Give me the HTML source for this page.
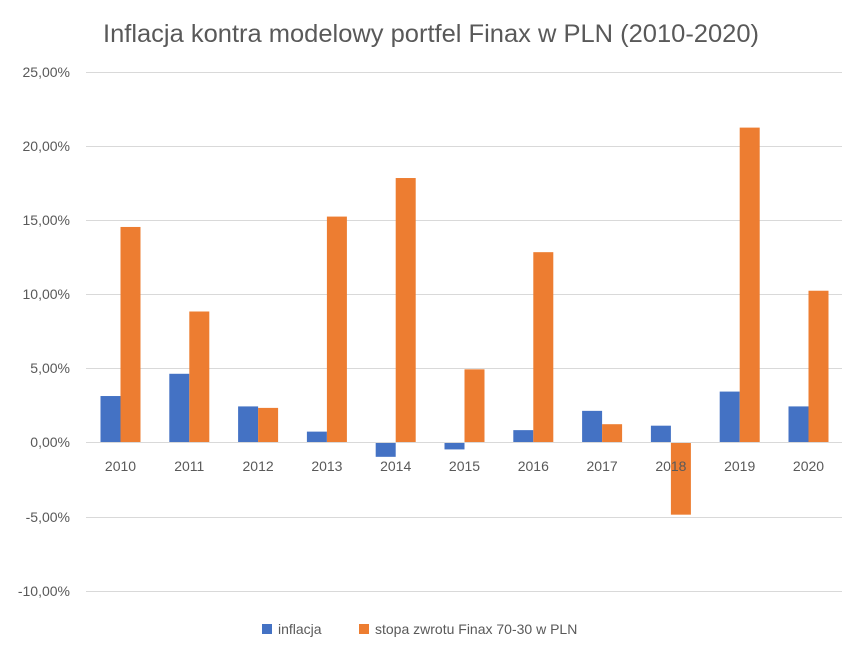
<!DOCTYPE html>
<html><head><meta charset="utf-8"><style>
body{margin:0;background:#fff;}
svg{display:block;font-family:"Liberation Sans",sans-serif;}
</style></head><body>
<svg width="862" height="656" xmlns="http://www.w3.org/2000/svg">
<rect width="862" height="656" fill="#fff"/>
<text x="431" y="42" text-anchor="middle" font-size="25" textLength="656" lengthAdjust="spacingAndGlyphs" fill="#595959">Inflacja kontra modelowy portfel Finax w PLN (2010-2020)</text>
<g stroke="#d9d9d9" stroke-width="1">
<line x1="86" x2="842" y1="72.5" y2="72.5"/>
<line x1="86" x2="842" y1="146.5" y2="146.5"/>
<line x1="86" x2="842" y1="220.5" y2="220.5"/>
<line x1="86" x2="842" y1="294.5" y2="294.5"/>
<line x1="86" x2="842" y1="368.5" y2="368.5"/>
<line x1="86" x2="842" y1="517.5" y2="517.5"/>
<line x1="86" x2="842" y1="591.5" y2="591.5"/>
</g>
<g font-size="14" fill="#595959" text-anchor="end">
<text x="70" y="77">25,00%</text>
<text x="70" y="151">20,00%</text>
<text x="70" y="225">15,00%</text>
<text x="70" y="299">10,00%</text>
<text x="70" y="373">5,00%</text>
<text x="70" y="447">0,00%</text>
<text x="70" y="522">-5,00%</text>
<text x="70" y="596">-10,00%</text>
</g>
<g id="bars"></g>
<line x1="86" x2="842" y1="442.5" y2="442.5" stroke="#d9d9d9"/>
<g font-size="14" fill="#595959" text-anchor="middle" id="labels"></g>
<rect x="262" y="624" width="10" height="10" fill="#4472C4"/>
<text x="278" y="634" font-size="14" fill="#595959">inflacja</text>
<rect x="359" y="624" width="10" height="10" fill="#ED7D31"/>
<text x="375" y="634" font-size="14" fill="#595959">stopa zwrotu Finax 70-30 w PLN</text>
<script>
var inf=[3.1,4.6,2.4,0.7,-1.0,-0.5,0.8,2.1,1.1,3.4,2.4];
var ret=[14.5,8.8,2.3,15.2,17.8,4.9,12.8,1.2,-4.9,21.2,10.2];
var g=document.getElementById('bars'),l=document.getElementById('labels');
var ns="http://www.w3.org/2000/svg";
function bar(x,v,c){var r=document.createElementNS(ns,'rect');var h=v*14.83;
r.setAttribute('x',x);r.setAttribute('width',20);
r.setAttribute('y',v>=0?442-h:442);r.setAttribute('height',Math.abs(h));r.setAttribute('fill',c);g.appendChild(r);}
for(var i=0;i<11;i++){var cx=120.5+i*68.8;
bar(cx-20,inf[i],'#4472C4');bar(cx,ret[i],'#ED7D31');
var t=document.createElementNS(ns,'text');t.setAttribute('x',cx);t.setAttribute('y',471);t.textContent=2010+i;l.appendChild(t);}
</script>
</svg>
</body></html>
